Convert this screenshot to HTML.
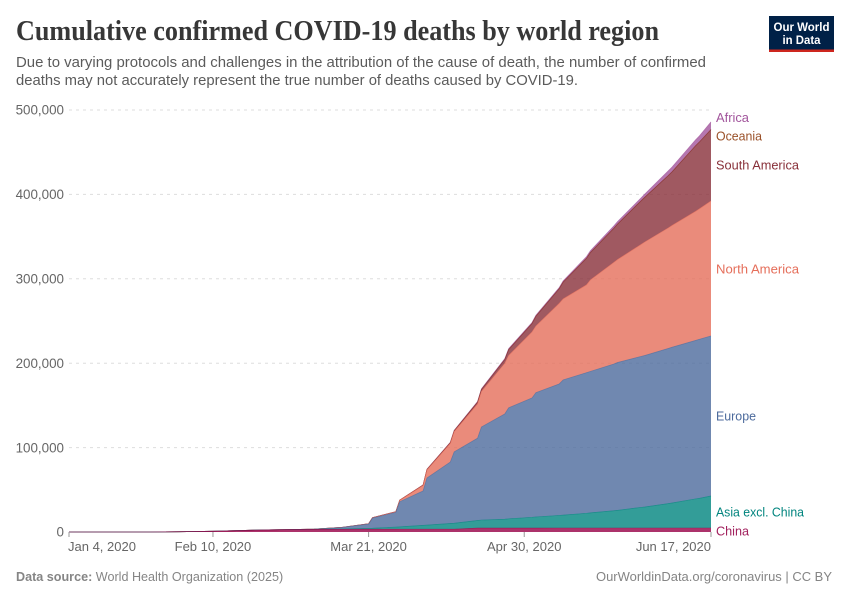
<!DOCTYPE html>
<html lang="en">
<head>
<meta charset="utf-8">
<title>Cumulative confirmed COVID-19 deaths by world region</title>
<style>
html,body{margin:0;padding:0;background:#fff;}
svg{display:block;font-family:"Liberation Sans",sans-serif;}
</style>
</head>
<body>
<svg id="chart" width="850" height="600" viewBox="0 0 850 600" xmlns="http://www.w3.org/2000/svg">
  <rect x="0" y="0" width="850" height="600" fill="#ffffff"></rect>
  <text x="16" y="40" font-family="'Liberation Serif',serif" font-weight="700" font-size="28" fill="#373737" textLength="643" lengthAdjust="spacingAndGlyphs">Cumulative confirmed COVID-19 deaths by world region</text>
  <text x="16" y="67" font-size="15" fill="#5b5b5b" textLength="690" lengthAdjust="spacingAndGlyphs">Due to varying protocols and challenges in the attribution of the cause of death, the number of confirmed</text>
  <text x="16" y="85" font-size="15" fill="#5b5b5b" textLength="562" lengthAdjust="spacingAndGlyphs">deaths may not accurately represent the true number of deaths caused by COVID-19.</text>

  <g>
    <rect x="769" y="16" width="65" height="36" fill="#002147"></rect>
    <rect x="769" y="49.5" width="65" height="2.5" fill="#ce261e"></rect>
    <text x="801.5" y="31" text-anchor="middle" font-size="12" font-weight="700" fill="#ffffff" textLength="56" lengthAdjust="spacingAndGlyphs">Our World</text>
    <text x="801.5" y="44" text-anchor="middle" font-size="12" font-weight="700" fill="#ffffff" textLength="38" lengthAdjust="spacingAndGlyphs">in Data</text>
  </g>

  <g id="grid"></g>
  <g id="areas"></g>
  <g id="xaxis"></g>

  <g font-size="12.6">
    <text x="716" y="122" fill="#A2559C" textLength="33" lengthAdjust="spacingAndGlyphs">Africa</text>
    <text x="716" y="140.5" fill="#9A5129" textLength="46" lengthAdjust="spacingAndGlyphs">Oceania</text>
    <text x="716" y="169.5" fill="#883039" textLength="83" lengthAdjust="spacingAndGlyphs">South America</text>
    <text x="716" y="273.5" fill="#E56E5A" textLength="83" lengthAdjust="spacingAndGlyphs">North America</text>
    <text x="716" y="420.5" fill="#4C6A9C" textLength="40" lengthAdjust="spacingAndGlyphs">Europe</text>
    <text x="716" y="516.5" fill="#00847E" textLength="88" lengthAdjust="spacingAndGlyphs">Asia excl. China</text>
    <text x="716" y="535.5" fill="#A2215E" textLength="33" lengthAdjust="spacingAndGlyphs">China</text>
  </g>

  <text x="16" y="581" font-size="12.6" fill="#858585"><tspan font-weight="700">Data source:</tspan> World Health Organization (2025)</text>
  <text x="832" y="581" text-anchor="end" font-size="12.6" fill="#858585" textLength="236" lengthAdjust="spacingAndGlyphs">OurWorldinData.org/coronavirus | CC BY</text>
</svg>
<script>
const dates = ["2020-01-04","2020-01-18","2020-01-25","2020-02-01","2020-02-10","2020-02-22","2020-02-29","2020-03-07","2020-03-14","2020-03-21","2020-03-22","2020-03-28","2020-03-29","2020-04-04","2020-04-05","2020-04-11","2020-04-12","2020-04-18","2020-04-19","2020-04-25","2020-04-26","2020-05-02","2020-05-03","2020-05-09","2020-05-10","2020-05-16","2020-05-17","2020-05-23","2020-05-24","2020-05-30","2020-05-31","2020-06-06","2020-06-07","2020-06-13","2020-06-14","2020-06-17"];
const china = [0,0,40,260,900,2350,2840,3070,3190,3260,3260,3290,3300,3320,3320,3340,3340,4630,4630,4630,4630,4630,4630,4640,4640,4640,4640,4640,4640,4640,4640,4640,4640,4650,4650,4650];
const asia = [0,0,0,0,1,5,60,150,400,1100,1200,2500,2800,4500,4800,6700,7000,9000,9500,10500,11000,12800,13200,15000,15400,17500,18000,20500,21000,24500,25000,29000,29700,34500,35200,38000];
const europe = [0,0,0,0,0,1,20,250,1800,5100,12100,17500,29800,40800,55900,72900,84600,97500,110300,124700,131500,141400,147200,155800,160100,166660,167560,173860,175160,178860,179460,183760,184560,187750,188450,189650];
const northAmerica = [0,0,0,0,0,0,0,10,50,300,400,700,1700,6600,9600,22000,24000,40500,42000,60000,62000,78200,79000,95500,96000,103940,108350,120300,122000,132600,134500,142800,144300,152900,154500,159900];
const southAmerica = [0,0,0,0,0,0,0,0,0,30,50,100,150,350,500,900,1000,2200,2400,4500,7000,10000,11500,17400,19900,31500,32500,40400,42100,51600,53000,62000,63500,77600,79100,84600];
const oceania = [0,0,0,0,0,0,0,1,3,7,10,15,18,20,25,40,45,55,60,70,75,80,85,90,90,100,100,100,100,100,100,110,110,115,115,120];
const africa = [0,0,0,0,0,0,0,2,5,20,40,60,80,200,250,500,550,800,850,1050,1100,1150,1200,1300,1400,2000,2100,2800,2900,3500,3800,5500,5700,7000,7200,9000];
const seriesNames = ["China","Asia excl. China","Europe","North America","South America","Oceania","Africa"];
const seriesColors = ["#970046","#00847E","#4C6A9C","#E56E5A","#883039","#9A5129","#A2559C"];
const yTicks = [0,100000,200000,300000,400000,500000];
const xTickDates = ["2020-01-04","2020-02-10","2020-03-21","2020-04-30","2020-06-17"];
const xTickLabels = ["Jan 4, 2020","Feb 10, 2020","Mar 21, 2020","Apr 30, 2020","Jun 17, 2020"];

const seriesValues = [china,asia,europe,northAmerica,southAmerica,oceania,africa];
const NS = "http://www.w3.org/2000/svg";
const plot = {left:69,right:711,top:110,bottom:532};
const yMax = 500000;
const t0 = Date.parse(dates[0]);
const t1 = Date.parse(dates[dates.length-1]);
const xScale = d => plot.left + (Date.parse(d)-t0)/(t1-t0)*(plot.right-plot.left);
const yScale = v => plot.bottom - v/yMax*(plot.bottom-plot.top);
const slug = s => s.toLowerCase().replace(/[^a-z]+/g,'-');

function make(tag, attrs, parent){
  const el = document.createElementNS(NS, tag);
  for (const k in attrs) el.setAttribute(k, attrs[k]);
  parent.appendChild(el);
  return el;
}

const gridG = document.getElementById('grid');
yTicks.forEach(tick => {
  if (tick > 0) {
    const line = make('line',{x1:plot.left,x2:plot.right,y1:yScale(tick),y2:yScale(tick),stroke:'#dddddd','stroke-dasharray':'3,4','stroke-width':1},gridG);
    
    
  }
  const label = make('text',{x:64,y:yScale(tick)+4.7,'text-anchor':'end','font-size':13.4,fill:'#666666'},gridG);
  label.textContent = tick.toLocaleString('en-US');
  
  
});

const areasG = document.getElementById('areas');
const baseline = dates.map(() => 0);
const stacks = [];
seriesValues.forEach(values => {
  const prev = stacks.length ? stacks[stacks.length-1] : baseline;
  stacks.push(values.map((v,i) => v + prev[i]));
});
for (let s = seriesValues.length-1; s >= 0; s--) {
  const top = stacks[s];
  const bottom = s > 0 ? stacks[s-1] : baseline;
  const upper = dates.map((d,i) => xScale(d).toFixed(2)+','+yScale(top[i]).toFixed(2));
  const lower = dates.map((d,i) => xScale(d).toFixed(2)+','+yScale(bottom[i]).toFixed(2)).reverse();
  const area = make('path',{d:'M'+upper.join('L')+'L'+lower.join('L')+'Z',fill:seriesColors[s],'fill-opacity':0.8,stroke:'none'},areasG);
  
  
  const line = make('path',{d:'M'+upper.join('L'),fill:'none',stroke:seriesColors[s],'stroke-opacity':0.7,'stroke-width':0.7},areasG);
  
  
}

const xG = document.getElementById('xaxis');
xTickDates.forEach((d,i) => {
  const x = xScale(d);
  const tick = make('line',{x1:x,x2:x,y1:plot.bottom,y2:plot.bottom+5,stroke:'#999999','stroke-width':1},xG);
  
  
  const anchor = i === 0 ? 'start' : (i === xTickDates.length-1 ? 'end' : 'middle');
  const label = make('text',{x:x-(i===0?1:0),y:551,'text-anchor':anchor,'font-size':13,fill:'#666666'},xG);
  label.textContent = xTickLabels[i];
  
  
});
</script>
</body>
</html>
